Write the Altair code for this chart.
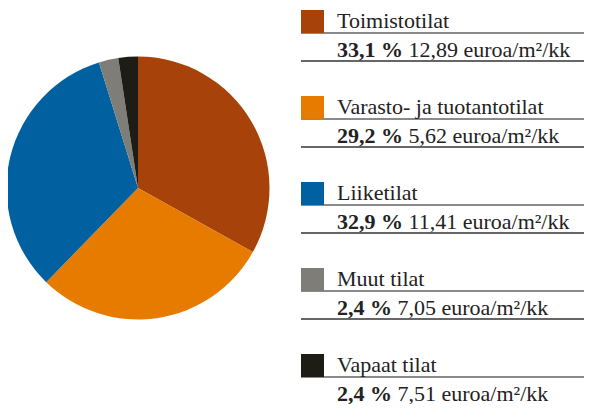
import altair as alt
import pandas as pd

categories = ["Toimistotilat", "Varasto- ja tuotantotilat", "Liiketilat", "Muut tilat", "Vapaat tilat"]
shares = [33.1, 29.2, 32.9, 2.4, 2.4]
share_labels = ["33,1 %", "29,2 %", "32,9 %", "2,4 %", "2,4 %"]
rent_labels = ["12,89 euroa/m²/kk", "5,62 euroa/m²/kk", "11,41 euroa/m²/kk", "7,05 euroa/m²/kk", "7,51 euroa/m²/kk"]
colors = ["#A8420B", "#E77B00", "#0060A0", "#7F7D77", "#1D1D15"]

FS = 22
FONT = "'Liberation Serif', 'DejaVu Serif', serif"
# approximate Times-Bold advance widths (em) to place the regular part after the bold part
bold_w = {d: 0.5 for d in "0123456789"}
bold_w.update({",": 0.25, " ": 0.25, "%": 1.0})

def bold_width(s):
    return sum(bold_w.get(c, 0.5) for c in s + " ") * FS

W, H = 576, 396
TEXT_X = 329
df = pd.DataFrame({
    "idx": list(range(len(categories))),
    "cat": categories,
    "share": shares,
    "share_label": share_labels,
    "rent_label": rent_labels,
})
df["rent_x"] = [TEXT_X + bold_width(s) for s in share_labels]

ROW0 = 25
STEP = 86
yscale = alt.Scale(domain=[0, len(categories) - 1], range=[ROW0, ROW0 + STEP * (len(categories) - 1)])
Y = alt.Y("idx:Q", scale=yscale, axis=None)
color = alt.Color("cat:N", scale=alt.Scale(domain=categories, range=colors), legend=None)

base = alt.Chart(df)

pie = base.mark_arc(radius=131.5).encode(
    theta=alt.Theta("share:Q", stack=True),
    color=color,
    order=alt.Order("idx:Q"),
    x=alt.value(130),
    y=alt.value(180),
)

gray_rule = base.mark_rule(color="#8a8a8a", strokeWidth=2).encode(
    y=Y, x=alt.value(293), x2=alt.value(W)
)
dark_rule = base.mark_rule(color="#333333", strokeWidth=1.5, yOffset=28).encode(
    y=Y, x=alt.value(293), x2=alt.value(W)
)
swatch = base.mark_square(size=23 * 23, opacity=1, yOffset=-11.5).encode(
    y=Y, x=alt.value(304.5), color=color
)
label = base.mark_text(align="left", baseline="alphabetic", dy=-5, font=FONT, fontSize=FS, color="#222222").encode(
    y=Y, x=alt.value(TEXT_X), text="cat:N"
)
share_txt = base.mark_text(align="left", baseline="alphabetic", dy=23.5, font=FONT, fontSize=FS,
                           fontWeight="bold", color="#222222").encode(
    y=Y, x=alt.value(TEXT_X), text="share_label:N"
)
rent_txt = base.mark_text(align="left", baseline="alphabetic", dy=23.5, font=FONT, fontSize=FS, color="#222222").encode(
    y=Y, x=alt.X("rent_x:Q", scale=None, axis=None), text="rent_label:N"
)

chart = alt.layer(pie, gray_rule, dark_rule, swatch, label, share_txt, rent_txt).properties(
    width=W, height=H, padding=0, autosize=alt.AutoSizeParams(type="none")
).configure_view(stroke=None)

chart.save("out.html", embed_options={"renderer": "svg", "actions": False})
